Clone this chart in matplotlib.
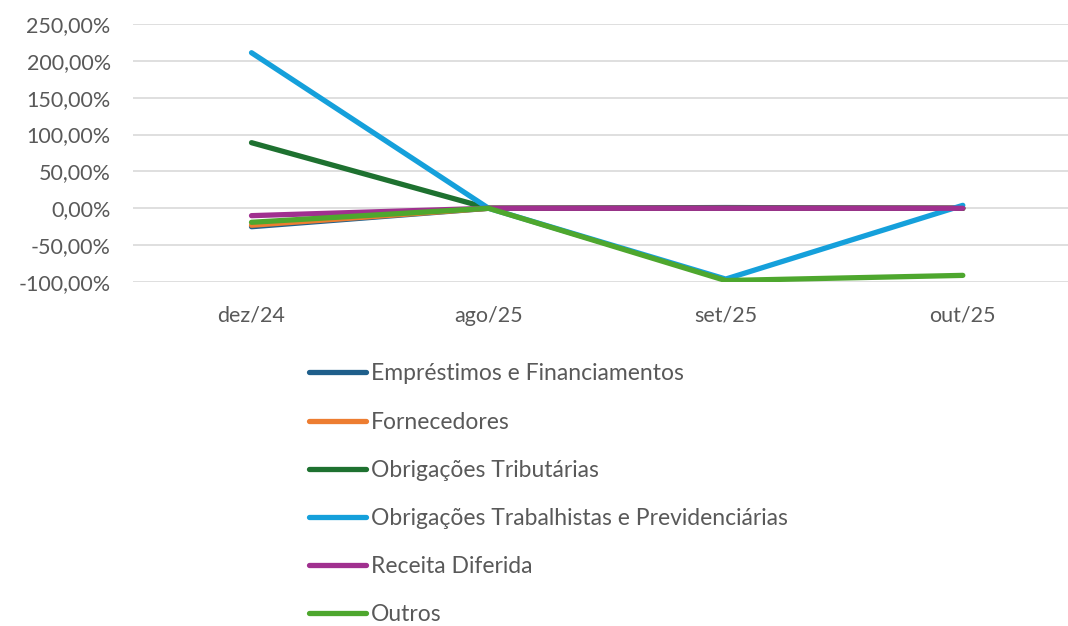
import matplotlib.pyplot as plt
from matplotlib.ticker import FuncFormatter

plt.rcParams['font.family'] = ['Lato', 'DejaVu Sans']

months = ['dez/24', 'ago/25', 'set/25', 'out/25']
series_names = ['Empréstimos e Financiamentos', 'Fornecedores', 'Obrigações Tributárias',
                'Obrigações Trabalhistas e Previdenciárias', 'Receita Diferida', 'Outros']
emprestimos = [-25, 0, 1, 0]
fornecedores = [-23, 0, 0, 0]
tributarias = [89, 0, 0, 0]
trabalhistas = [211, 0, -96, 4]
receita = [-10, 0, 0, 0]
outros = [-19, 0, -98, -91]
colors = ['#1F5F8B', '#ED7D31', '#1E7130', '#15A0DB', '#A0308F', '#4EA72E']

fig = plt.figure(figsize=(10.68, 6.26), dpi=100)
ax = fig.add_axes([0.1245, 0.5495, 0.888, 0.4122])

x = range(len(months))
for vals, name, c in zip([emprestimos, fornecedores, tributarias, trabalhistas, receita, outros],
                         series_names, colors):
    ax.plot(x, vals, color=c, lw=3.8, solid_capstyle='round', label=name)

ax.set_xlim(-0.5, 3.5)
ax.set_ylim(-100, 250)
ax.set_yticks(range(-100, 251, 50))
ax.yaxis.set_major_formatter(FuncFormatter(lambda v, p: f'{v:.2f}%'.replace('.', ',')))
ax.set_xticks(list(x))
ax.set_xticklabels(months)
ax.grid(axis='y', color='#D9D9D9', lw=1.2)
ax.set_axisbelow(True)
for s in ax.spines.values():
    s.set_visible(False)
ax.tick_params(length=0, labelsize=15.5, colors='#595959')
ax.tick_params(axis='x', pad=17)
ax.tick_params(axis='y', pad=16)

leg = fig.legend(loc='upper left', bbox_to_anchor=(0.2805, 0.434), frameon=False,
                 fontsize=16.5, labelcolor='#595959', handlelength=2.5, handletextpad=0.2,
                 labelspacing=1.18, borderaxespad=0)

fig.savefig('out.png', dpi=100)
